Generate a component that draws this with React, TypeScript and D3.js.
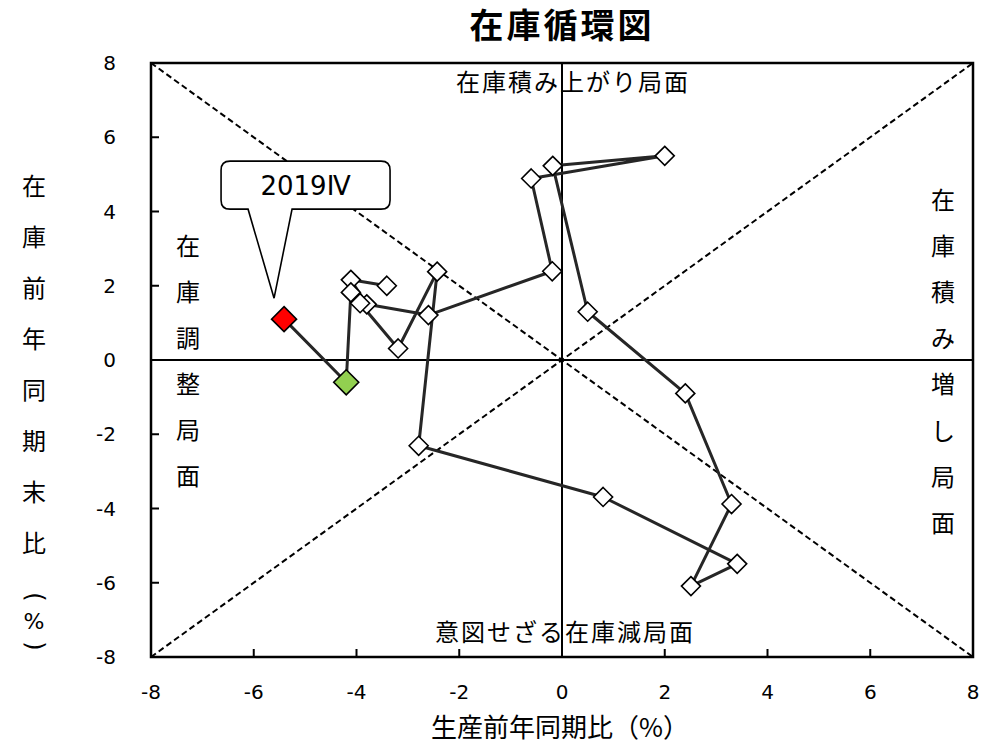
import React from "react";
import * as d3 from "d3";

// Production YoY (%) and inventory YoY (%), chronological order, last = 2019Ⅳ
const prodYoY = [-3.41, -4.11, -3.8, -2.6, -0.19, -0.6, 2.0, -0.18, 0.5, 2.4, 3.3, 2.51, 3.41, 0.8, -2.79, -2.43, -3.19, -3.93, -4.11, -4.2, -5.41];
const invYoY = [2.0, 2.16, 1.5, 1.21, 2.39, 4.89, 5.5, 5.23, 1.3, -0.9, -3.88, -6.09, -5.49, -3.69, -2.31, 2.38, 0.31, 1.53, 1.82, -0.6, 1.1];
const tickValues = [-8, -6, -4, -2, 0, 2, 4, 6, 8];
const title = "在庫循環図";
const xLabel = "生産前年同期比（%）";
const yLabelChars = ["在", "庫", "前", "年", "同", "期", "末", "比"];
const yLabelTail = ["(", "%", ")"];
const topLabel = "在庫積み上がり局面";
const bottomLabel = "意図せざる在庫減局面";
const leftLabelChars = ["在", "庫", "調", "整", "局", "面"];
const rightLabelChars = ["在", "庫", "積", "み", "増", "し", "局", "面"];
const calloutText = "2019Ⅳ";

const W = 995;
const H = 747;
const FONT = "'DejaVu Sans', 'Noto Sans CJK JP', sans-serif";
const JFONT = "'Noto Sans CJK JP', 'DejaVu Sans', sans-serif";

export default function App() {
  const x = d3.scaleLinear().domain([-8, 8]).range([151, 973]);
  const y = d3.scaleLinear().domain([-8, 8]).range([657, 63]);
  const pts = prodYoY.map((v, i) => [x(v), y(invYoY[i])] as [number, number]);
  const line = d3.line()(pts) || "";
  const n = pts.length;

  const diamond = (cx: number, cy: number, r: number) =>
    `M${cx},${cy - r}L${cx + r},${cy}L${cx},${cy + r}L${cx - r},${cy}Z`;

  const [rx, ry] = pts[n - 1];
  // callout geometry relative to the last point
  const bx0 = rx - 63, bx1 = rx + 106, by0 = ry - 158, by1 = ry - 110;
  const tipX = rx - 10, tipY = ry - 21;
  const rr = 9;
  const callout = `M${bx0 + rr},${by0}H${bx1 - rr}Q${bx1},${by0} ${bx1},${by0 + rr}V${by1 - rr}Q${bx1},${by1} ${bx1 - rr},${by1}H${rx + 8}L${tipX},${tipY}L${rx - 36},${by1}H${bx0 + rr}Q${bx0},${by1} ${bx0},${by1 - rr}V${by0 + rr}Q${bx0},${by0} ${bx0 + rr},${by0}Z`;

  const tailY = [597, 621, 646];

  return (
    <svg width={W} height={H} style={{ position: "absolute", left: 0, top: 0, background: "#fff" }}>
      <rect x={0} y={0} width={W} height={H} fill="#fff" />
      <text x={562} y={38} textAnchor="middle" fontFamily={JFONT} fontWeight="bold" fontSize={34} letterSpacing={3}>
        {title}
      </text>

      {/* diagonals */}
      <line x1={x(-8)} y1={y(8)} x2={x(8)} y2={y(-8)} stroke="#000" strokeWidth={2} strokeDasharray="6,3.5" />
      <line x1={x(-8)} y1={y(-8)} x2={x(8)} y2={y(8)} stroke="#000" strokeWidth={2} strokeDasharray="6,3.5" />

      {/* zero axes */}
      <line x1={x(0)} y1={y(8)} x2={x(0)} y2={y(-8)} stroke="#000" strokeWidth={2} />
      <line x1={x(-8)} y1={y(0)} x2={x(8)} y2={y(0)} stroke="#000" strokeWidth={2} />

      {/* ticks */}
      {tickValues.map((t) => (
        <g key={"t" + t}>
          <line x1={x(-8)} x2={x(-8) + 8} y1={y(t)} y2={y(t)} stroke="#000" strokeWidth={2} />
          <line x1={x(t)} x2={x(t)} y1={y(-8)} y2={y(-8) - 8} stroke="#000" strokeWidth={2} />
          <text x={116} y={y(t)} dy="0.36em" textAnchor="end" fontFamily={FONT} fontSize={20} fill="#000">
            {t}
          </text>
          <text x={x(t)} y={692} dy="0.36em" textAnchor="middle" fontFamily={FONT} fontSize={20} fill="#000">
            {t}
          </text>
        </g>
      ))}

      {/* plot border */}
      <rect x={x(-8)} y={y(8)} width={x(8) - x(-8)} height={y(-8) - y(8)} fill="none" stroke="#000" strokeWidth={2.5} />

      {/* quadrant labels */}
      <text x={573} y={82} dy="0.36em" textAnchor="middle" fontFamily={JFONT} fontSize={24} letterSpacing={2}>
        {topLabel}
      </text>
      <text x={565} y={632} dy="0.36em" textAnchor="middle" fontFamily={JFONT} fontSize={24} letterSpacing={2}>
        {bottomLabel}
      </text>
      {leftLabelChars.map((c, i) => (
        <text key={"l" + i} x={188} y={246 + i * 46} dy="0.36em" textAnchor="middle" fontFamily={JFONT} fontSize={24}>
          {c}
        </text>
      ))}
      {rightLabelChars.map((c, i) => (
        <text key={"r" + i} x={943} y={200 + i * 46.2} dy="0.36em" textAnchor="middle" fontFamily={JFONT} fontSize={24}>
          {c}
        </text>
      ))}

      {/* axis titles */}
      <text x={560} y={728} dy="0.36em" textAnchor="middle" fontFamily={JFONT} fontSize={26}>
        {xLabel}
      </text>
      {yLabelChars.map((c, i) => (
        <text key={"y" + i} x={34} y={186 + i * 51} dy="0.36em" textAnchor="middle" fontFamily={JFONT} fontSize={24}>
          {c}
        </text>
      ))}
      {yLabelTail.map((c, i) => (
        <text
          key={"yt" + i}
          x={0}
          y={0}
          dy={i === 1 ? "0.36em" : "0.3em"}
          textAnchor="middle"
          fontFamily={FONT}
          fontSize={i === 1 ? 22 : 24}
          transform={`translate(34,${tailY[i]})${i === 1 ? "" : " rotate(90)"}`}
        >
          {c}
        </text>
      ))}

      {/* path */}
      <path d={line} fill="none" stroke="#262626" strokeWidth={3} strokeLinejoin="round" />
      {pts.map(([px, py], i) => {
        const last = i === n - 1;
        const prev = i === n - 2;
        return (
          <path
            key={"p" + i}
            d={diamond(px, py, last || prev ? 12.5 : 9.5)}
            fill={last ? "#ff0000" : prev ? "#92d050" : "#fff"}
            stroke="#000"
            strokeWidth={1.6}
          />
        );
      })}

      {/* callout */}
      <path d={callout} fill="#fff" stroke="#000" strokeWidth={1.6} />
      <text x={(bx0 + bx1) / 2} y={(by0 + by1) / 2} dy="0.36em" textAnchor="middle" fontFamily={FONT} fontSize={26}>
        {calloutText}
      </text>
    </svg>
  );
}
